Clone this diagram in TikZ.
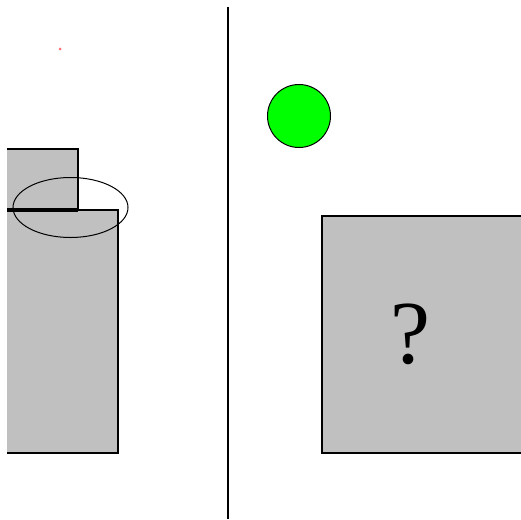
\documentclass[tikz,border=0pt]{standalone}
\usepackage{fontspec}
\setmainfont{Liberation Serif}
\definecolor{boxgray}{RGB}{192,192,192}
\definecolor{ballgreen}{RGB}{0,255,0}
\definecolor{dotred}{RGB}{255,110,110}
\tikzset{
  edge/.style={draw=black, line width=1.2pt},
  thickedge/.style={draw=black, line width=3.5pt},
}
\begin{document}
\begin{tikzpicture}[x=1pt,y=-1pt]
\useasboundingbox (0,0) rectangle (521,519);
% left scene
\fill[boxgray] (7,149) rectangle (78,210);
\draw[edge] (7,149) -- (78,149) -- (78,210);
\fill[boxgray] (7,210) rectangle (118,453);
\draw[edge] (78,210) -- (118,210) -- (118,453) -- (7,453);
\draw[thickedge] (7,210) -- (78,210);
\draw[edge, line width=1pt] (70.5,207.5) ellipse [x radius=57.5, y radius=30];
\fill[dotred] (60,49) circle (1.5);
% divider
\draw[edge] (228,7) -- (228,519);
% right scene
\node[circle, fill=ballgreen, draw=black, line width=1pt, minimum size=63pt, inner sep=0pt] (ball) at (299,116) {};
\fill[boxgray] (322,216) rectangle (521,453);
\draw[edge] (521,216) -- (322,216) -- (322,453) -- (521,453);
\node[font=\fontsize{90}{90}\selectfont, inner sep=0pt] (q) at (410,334) {?};
\end{tikzpicture}
\end{document}
